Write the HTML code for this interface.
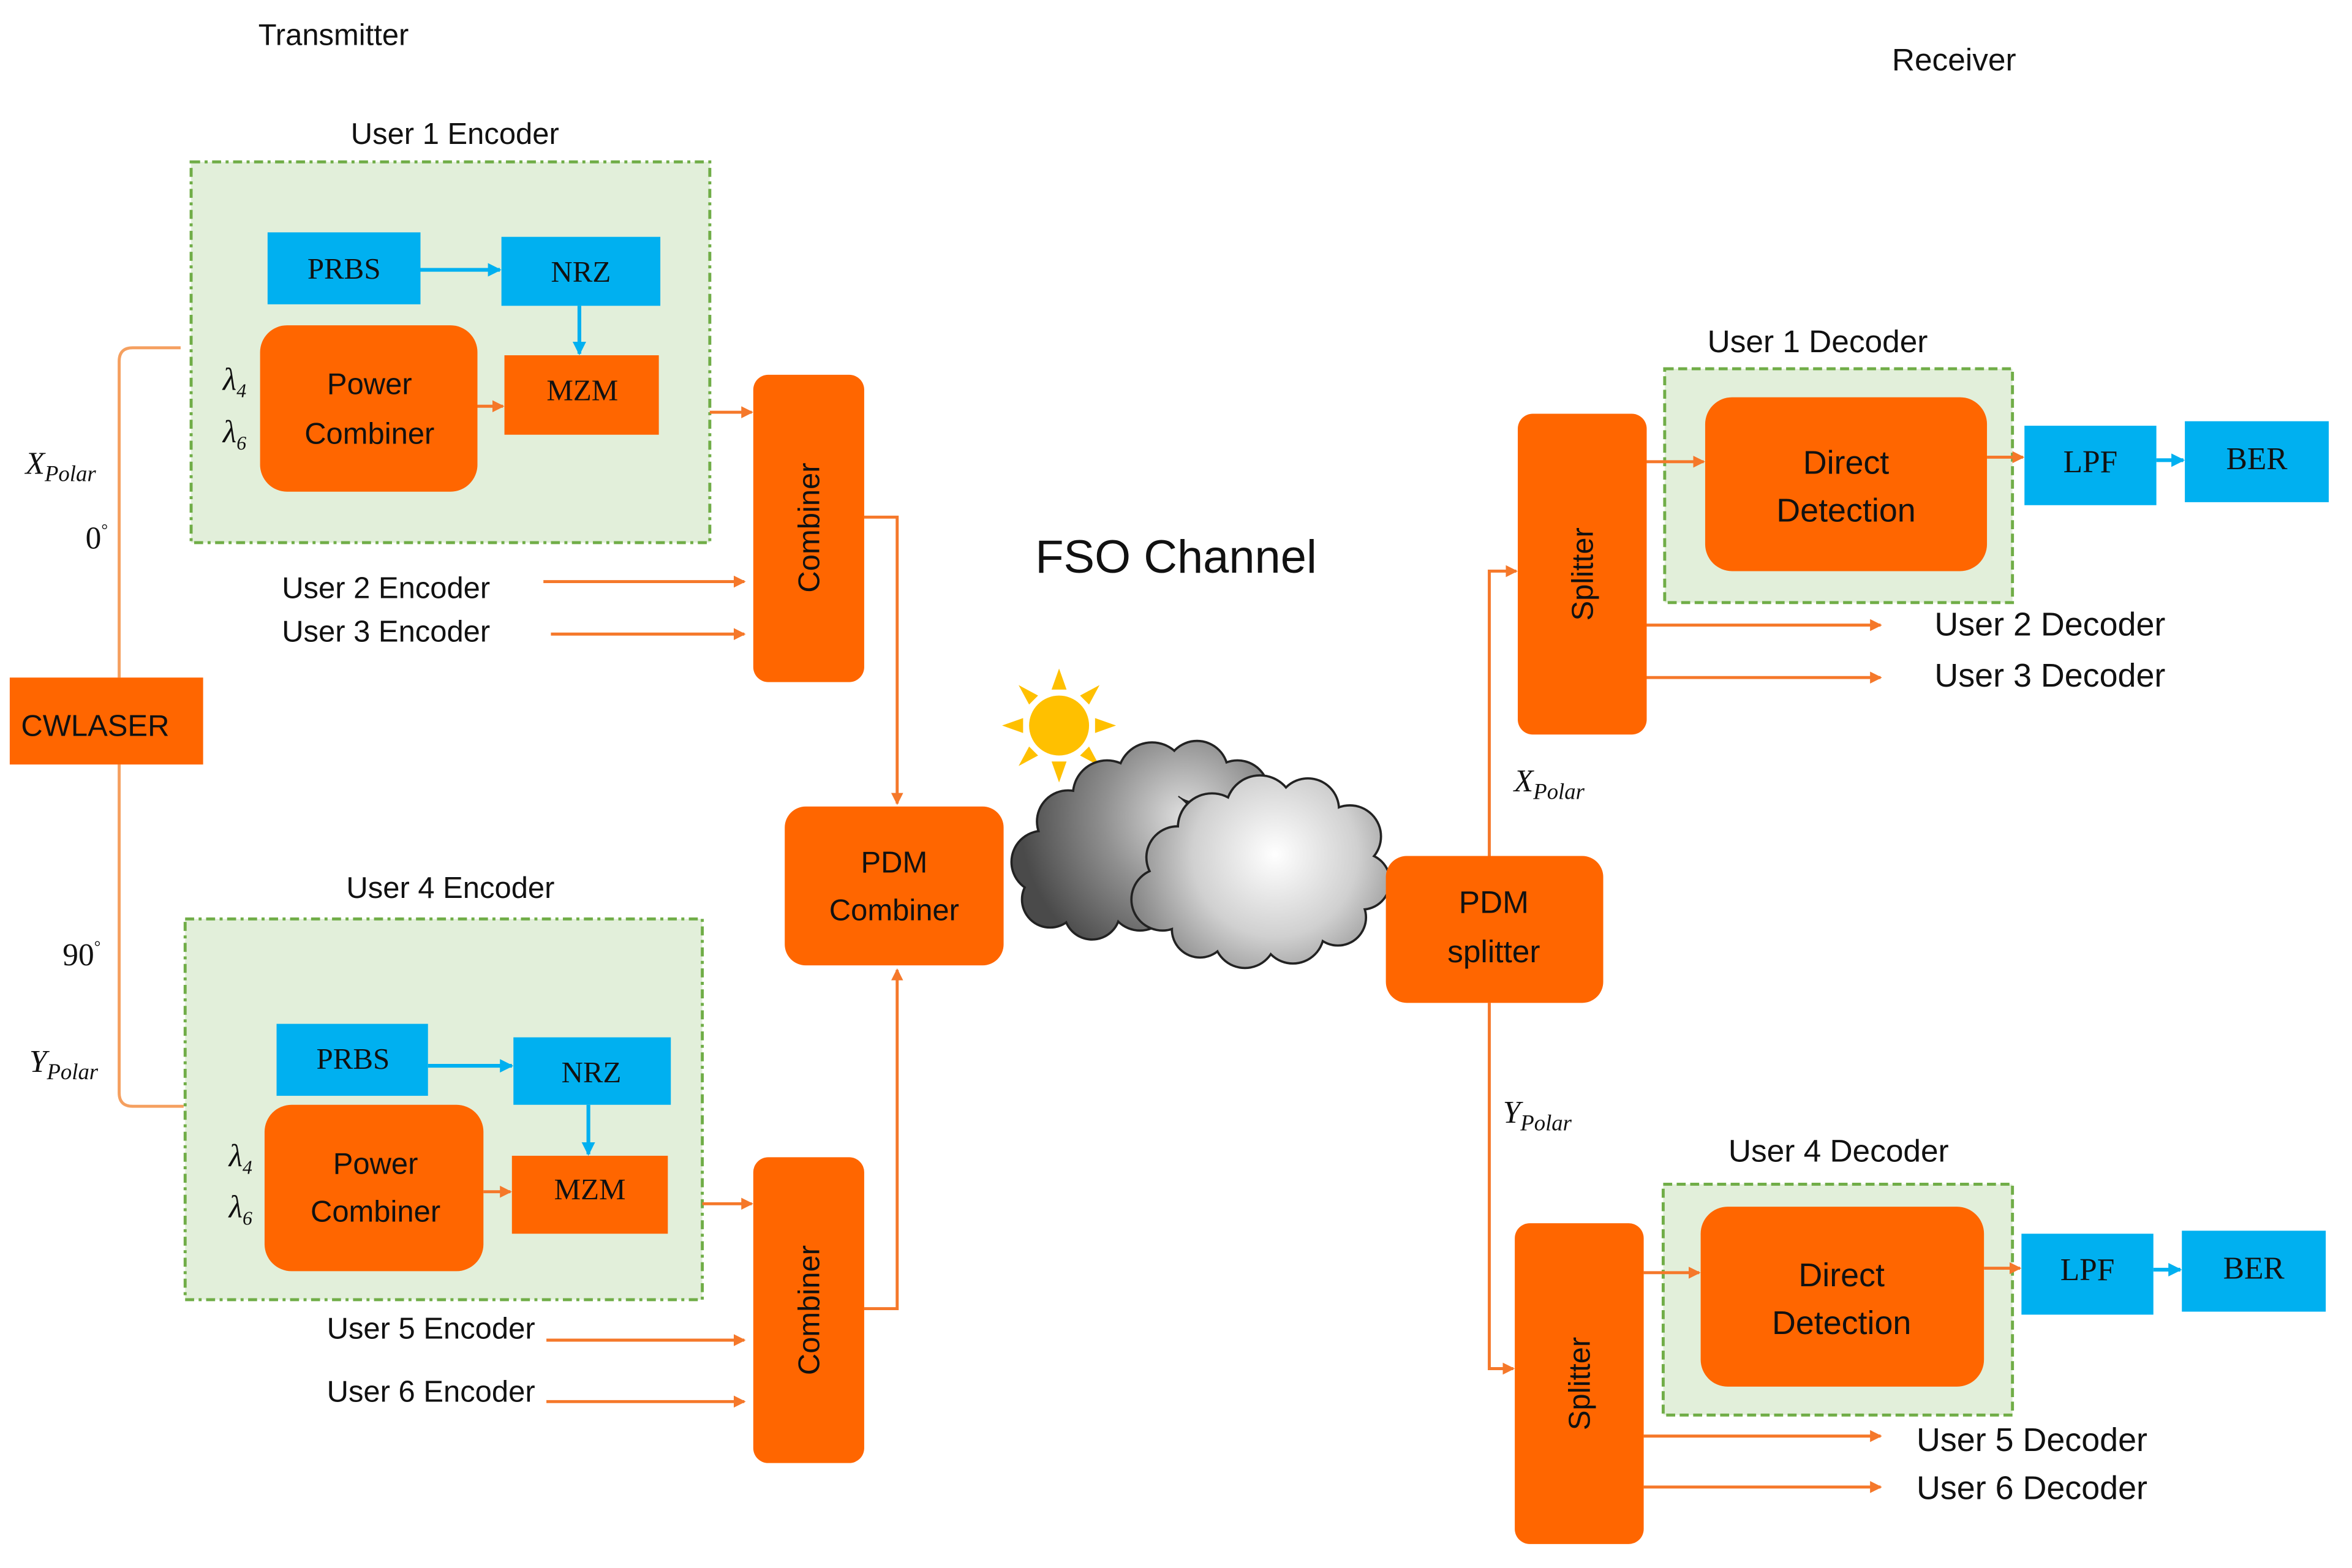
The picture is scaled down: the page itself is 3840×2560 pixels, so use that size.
<!DOCTYPE html>
<html><head><meta charset="utf-8"><style>
html,body{margin:0;padding:0;background:#fff;}
svg{display:block;}
text{font-family:"Liberation Sans",sans-serif;fill:#111;}
.s{font-family:"Liberation Serif",serif;}
</style></head><body>
<svg width="3840" height="2560" viewBox="0 0 1568 1046" xmlns="http://www.w3.org/2000/svg">
<defs>
<marker id="ao" markerWidth="8" markerHeight="8" refX="7" refY="4" orient="auto" markerUnits="userSpaceOnUse"><path d="M0,0 L8,4 L0,8 z" fill="#F5782A"/></marker>
<marker id="ab" markerWidth="9" markerHeight="9" refX="8" refY="4.5" orient="auto" markerUnits="userSpaceOnUse"><path d="M0,0 L9,4.5 L0,9 z" fill="#00B0F0"/></marker>
<radialGradient id="cg" gradientUnits="userSpaceOnUse" cx="790" cy="545" r="110"><stop offset="0" stop-color="#e0e0e0"/><stop offset="0.5" stop-color="#8f8f8f"/><stop offset="1" stop-color="#4a4a4a"/></radialGradient>
<radialGradient id="cg2" gradientUnits="userSpaceOnUse" cx="850" cy="570" r="100"><stop offset="0" stop-color="#ffffff"/><stop offset="0.55" stop-color="#d0d0d0"/><stop offset="1" stop-color="#858585"/></radialGradient>
<g id="c1">
<circle cx="695" cy="575" r="20"/><circle cx="712" cy="548" r="20"/><circle cx="738" cy="530" r="22"/><circle cx="768" cy="518" r="22"/><circle cx="798" cy="515" r="20"/><circle cx="825" cy="528" r="20"/><circle cx="840" cy="555" r="18"/><circle cx="700" cy="600" r="18"/><circle cx="728" cy="608" r="18"/><circle cx="760" cy="600" r="20"/><circle cx="765" cy="560" r="35"/><circle cx="728" cy="578" r="26"/>
</g>
<g id="c2">
<circle cx="775" cy="600" r="20"/><circle cx="785" cy="572" r="20"/><circle cx="808" cy="552" r="22"/><circle cx="840" cy="540" r="22"/><circle cx="872" cy="540" r="20"/><circle cx="900" cy="558" r="20"/><circle cx="908" cy="588" r="18"/><circle cx="892" cy="612" r="18"/><circle cx="862" cy="622" r="20"/><circle cx="830" cy="625" r="20"/><circle cx="800" cy="620" r="18"/><circle cx="845" cy="585" r="40"/><circle cx="808" cy="592" r="26"/><circle cx="882" cy="582" r="26"/>
</g>
</defs>

<text x="222" y="30" font-size="20" text-anchor="middle">Transmitter</text>
<text x="1303" y="47" font-size="21" text-anchor="middle">Receiver</text>

<rect x="127" y="108" width="346" height="254" fill="#E2EFDA" stroke="#70AD47" stroke-width="2" stroke-dasharray="6,3,2,3"/>
<text x="303" y="96" font-size="20" text-anchor="middle">User 1 Encoder</text>
<rect x="123" y="613" width="345" height="254" fill="#E2EFDA" stroke="#70AD47" stroke-width="2" stroke-dasharray="6,3,2,3"/>
<text x="300" y="599" font-size="20" text-anchor="middle">User 4 Encoder</text>

<rect x="178" y="155" width="102" height="48" fill="#00B0F0"/>
<text class="s" x="229" y="186" font-size="20" text-anchor="middle">PRBS</text>
<rect x="334" y="158" width="106" height="46" fill="#00B0F0"/>
<text class="s" x="387" y="188" font-size="20" text-anchor="middle">NRZ</text>
<line x1="280" y1="180" x2="333" y2="180" stroke="#00B0F0" stroke-width="2.5" marker-end="url(#ab)"/>
<line x1="386" y1="204" x2="386" y2="236" stroke="#00B0F0" stroke-width="2.5" marker-end="url(#ab)"/>
<rect x="173" y="217" width="145" height="111" rx="18" fill="#FF6600"/>
<text x="246" y="263" font-size="20" text-anchor="middle">Power</text>
<text x="246" y="296" font-size="20" text-anchor="middle">Combiner</text>
<rect x="336" y="237" width="103" height="53" fill="#FF6600"/>
<text class="s" x="388" y="267" font-size="20" text-anchor="middle">MZM</text>
<line x1="318" y1="271" x2="335" y2="271" stroke="#F5782A" stroke-width="2" marker-end="url(#ao)"/>
<text class="s" x="156" y="260" font-size="21" font-style="italic" text-anchor="middle">λ<tspan font-size="13" dy="5">4</tspan></text>
<text class="s" x="156" y="295" font-size="21" font-style="italic" text-anchor="middle">λ<tspan font-size="13" dy="5">6</tspan></text>

<rect x="184" y="683" width="101" height="48" fill="#00B0F0"/>
<text class="s" x="235" y="713" font-size="20" text-anchor="middle">PRBS</text>
<rect x="342" y="692" width="105" height="45" fill="#00B0F0"/>
<text class="s" x="394" y="722" font-size="20" text-anchor="middle">NRZ</text>
<line x1="285" y1="711" x2="341" y2="711" stroke="#00B0F0" stroke-width="2.5" marker-end="url(#ab)"/>
<line x1="392" y1="737" x2="392" y2="770" stroke="#00B0F0" stroke-width="2.5" marker-end="url(#ab)"/>
<rect x="176" y="737" width="146" height="111" rx="18" fill="#FF6600"/>
<text x="250" y="783" font-size="20" text-anchor="middle">Power</text>
<text x="250" y="815" font-size="20" text-anchor="middle">Combiner</text>
<rect x="341" y="771" width="104" height="52" fill="#FF6600"/>
<text class="s" x="393" y="800" font-size="20" text-anchor="middle">MZM</text>
<line x1="322" y1="795" x2="340" y2="795" stroke="#F5782A" stroke-width="2" marker-end="url(#ao)"/>
<text class="s" x="160" y="778" font-size="21" font-style="italic" text-anchor="middle">λ<tspan font-size="13" dy="5">4</tspan></text>
<text class="s" x="160" y="812" font-size="21" font-style="italic" text-anchor="middle">λ<tspan font-size="13" dy="5">6</tspan></text>

<path d="M120,232 H88 Q79,232 79,241 V452" fill="none" stroke="#F5A060" stroke-width="2"/>
<path d="M122,738 H88 Q79,738 79,729 V510" fill="none" stroke="#F5A060" stroke-width="2"/>
<rect x="6" y="452" width="129" height="58" fill="#FF6600"/>
<text x="63" y="491" font-size="20" text-anchor="middle">CWLASER</text>
<text class="s" x="40" y="316" font-size="21" font-style="italic" text-anchor="middle">X<tspan font-size="15" dy="5">Polar</tspan></text>
<text class="s" x="64" y="366" font-size="21" text-anchor="middle">0<tspan font-size="11" dy="-9">°</tspan></text>
<text class="s" x="54" y="644" font-size="21" text-anchor="middle">90<tspan font-size="11" dy="-9">°</tspan></text>
<text class="s" x="42" y="715" font-size="21" font-style="italic" text-anchor="middle">Y<tspan font-size="15" dy="5">Polar</tspan></text>

<line x1="473" y1="275" x2="501" y2="275" stroke="#F5782A" stroke-width="2" marker-end="url(#ao)"/>
<line x1="468" y1="803" x2="501" y2="803" stroke="#F5782A" stroke-width="2" marker-end="url(#ao)"/>
<rect x="502" y="250" width="74" height="205" rx="10" fill="#FF6600"/>
<text x="0" y="0" font-size="20" text-anchor="middle" transform="translate(546,352) rotate(-90)">Combiner</text>
<rect x="502" y="772" width="74" height="204" rx="10" fill="#FF6600"/>
<text x="0" y="0" font-size="20" text-anchor="middle" transform="translate(546,874) rotate(-90)">Combiner</text>
<text x="257" y="399" font-size="20" text-anchor="middle">User 2 Encoder</text>
<line x1="362" y1="388" x2="496" y2="388" stroke="#F5782A" stroke-width="2" marker-end="url(#ao)"/>
<text x="257" y="428" font-size="20" text-anchor="middle">User 3 Encoder</text>
<line x1="367" y1="423" x2="496" y2="423" stroke="#F5782A" stroke-width="2" marker-end="url(#ao)"/>
<text x="287" y="893" font-size="20" text-anchor="middle">User 5 Encoder</text>
<line x1="364" y1="894" x2="496" y2="894" stroke="#F5782A" stroke-width="2" marker-end="url(#ao)"/>
<text x="287" y="935" font-size="20" text-anchor="middle">User 6 Encoder</text>
<line x1="364" y1="935" x2="496" y2="935" stroke="#F5782A" stroke-width="2" marker-end="url(#ao)"/>

<path d="M576,345 H598 V536" fill="none" stroke="#F5782A" stroke-width="2" marker-end="url(#ao)"/>
<path d="M576,873 H598 V647" fill="none" stroke="#F5782A" stroke-width="2" marker-end="url(#ao)"/>
<rect x="523" y="538" width="146" height="106" rx="14" fill="#FF6600"/>
<text x="596" y="582" font-size="20" text-anchor="middle">PDM</text>
<text x="596" y="614" font-size="20" text-anchor="middle">Combiner</text>

<text x="784" y="382" font-size="31" text-anchor="middle">FSO Channel</text>

<g transform="translate(706,484)" fill="#FFC000">
<circle r="20"/>
<polygon points="-5,-24 5,-24 0,-38"/><polygon points="-5,24 5,24 0,38"/><polygon points="-24,-5 -24,5 -38,0"/><polygon points="24,-5 24,5 38,0"/>
<polygon points="-20,-14 -14,-20 -27,-27"/><polygon points="20,-14 14,-20 27,-27"/><polygon points="-20,14 -14,20 -27,27"/><polygon points="20,14 14,20 27,27"/>
</g>
<use href="#c1" fill="none" stroke="#222" stroke-width="3"/>
<use href="#c1" fill="url(#cg)" stroke="none"/>
<use href="#c2" fill="none" stroke="#222" stroke-width="3"/>
<use href="#c2" fill="url(#cg2)" stroke="none"/>

<rect x="924" y="571" width="145" height="98" rx="14" fill="#FF6600"/>
<text x="996" y="609" font-size="21" text-anchor="middle">PDM</text>
<text x="996" y="642" font-size="21" text-anchor="middle">splitter</text>
<path d="M993,571 V381 H1011" fill="none" stroke="#F5782A" stroke-width="2" marker-end="url(#ao)"/>
<path d="M993,669 V913 H1009" fill="none" stroke="#F5782A" stroke-width="2" marker-end="url(#ao)"/>
<text class="s" x="1033" y="528" font-size="21" font-style="italic" text-anchor="middle">X<tspan font-size="15" dy="5">Polar</tspan></text>
<text class="s" x="1025" y="749" font-size="21" font-style="italic" text-anchor="middle">Y<tspan font-size="15" dy="5">Polar</tspan></text>

<rect x="1110" y="246" width="232" height="156" fill="#E2EFDA" stroke="#70AD47" stroke-width="2" stroke-dasharray="6,3"/>
<text x="1212" y="235" font-size="21" text-anchor="middle">User 1 Decoder</text>
<rect x="1109" y="790" width="233" height="154" fill="#E2EFDA" stroke="#70AD47" stroke-width="2" stroke-dasharray="6,3"/>
<text x="1226" y="775" font-size="21" text-anchor="middle">User 4 Decoder</text>

<rect x="1012" y="276" width="86" height="214" rx="10" fill="#FF6600"/>
<text x="0" y="0" font-size="20" text-anchor="middle" transform="translate(1062,383) rotate(-90)">Splitter</text>
<rect x="1010" y="816" width="86" height="214" rx="10" fill="#FF6600"/>
<text x="0" y="0" font-size="20" text-anchor="middle" transform="translate(1060,923) rotate(-90)">Splitter</text>

<rect x="1137" y="265" width="188" height="116" rx="18" fill="#FF6600"/>
<text x="1231" y="316" font-size="22" text-anchor="middle">Direct</text>
<text x="1231" y="348" font-size="22" text-anchor="middle">Detection</text>
<rect x="1134" y="805" width="189" height="120" rx="18" fill="#FF6600"/>
<text x="1228" y="858" font-size="22" text-anchor="middle">Direct</text>
<text x="1228" y="890" font-size="22" text-anchor="middle">Detection</text>
<line x1="1098" y1="308" x2="1136" y2="308" stroke="#F5782A" stroke-width="2" marker-end="url(#ao)"/>
<line x1="1096" y1="849" x2="1133" y2="849" stroke="#F5782A" stroke-width="2" marker-end="url(#ao)"/>
<line x1="1325" y1="305" x2="1349" y2="305" stroke="#F5782A" stroke-width="2" marker-end="url(#ao)"/>
<line x1="1323" y1="846" x2="1347" y2="846" stroke="#F5782A" stroke-width="2" marker-end="url(#ao)"/>

<rect x="1350" y="284" width="88" height="53" fill="#00B0F0"/>
<text class="s" x="1394" y="315" font-size="21" text-anchor="middle">LPF</text>
<rect x="1457" y="281" width="96" height="54" fill="#00B0F0"/>
<text class="s" x="1505" y="313" font-size="21" text-anchor="middle">BER</text>
<line x1="1438" y1="307" x2="1456" y2="307" stroke="#00B0F0" stroke-width="2.5" marker-end="url(#ab)"/>
<rect x="1348" y="823" width="88" height="54" fill="#00B0F0"/>
<text class="s" x="1392" y="854" font-size="21" text-anchor="middle">LPF</text>
<rect x="1455" y="821" width="96" height="54" fill="#00B0F0"/>
<text class="s" x="1503" y="853" font-size="21" text-anchor="middle">BER</text>
<line x1="1436" y1="847" x2="1454" y2="847" stroke="#00B0F0" stroke-width="2.5" marker-end="url(#ab)"/>

<line x1="1098" y1="417" x2="1254" y2="417" stroke="#F5782A" stroke-width="2" marker-end="url(#ao)"/>
<text x="1367" y="424" font-size="22" text-anchor="middle">User 2 Decoder</text>
<line x1="1098" y1="452" x2="1254" y2="452" stroke="#F5782A" stroke-width="2" marker-end="url(#ao)"/>
<text x="1367" y="458" font-size="22" text-anchor="middle">User 3 Decoder</text>
<line x1="1096" y1="958" x2="1254" y2="958" stroke="#F5782A" stroke-width="2" marker-end="url(#ao)"/>
<text x="1355" y="968" font-size="22" text-anchor="middle">User 5 Decoder</text>
<line x1="1096" y1="992" x2="1254" y2="992" stroke="#F5782A" stroke-width="2" marker-end="url(#ao)"/>
<text x="1355" y="1000" font-size="22" text-anchor="middle">User 6 Decoder</text>
</svg>
</body></html>
